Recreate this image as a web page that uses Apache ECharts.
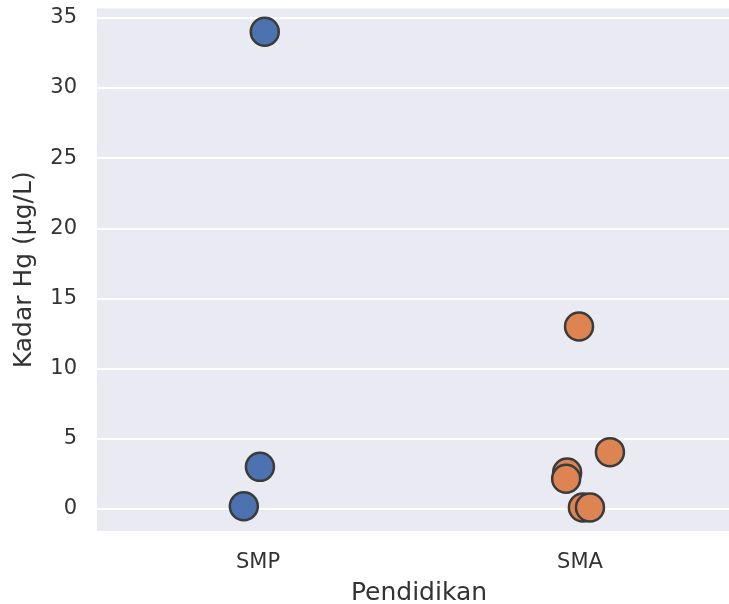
<!DOCTYPE html>
<html>
<head>
<meta charset="utf-8">
<script src="https://cdn.jsdelivr.net/npm/echarts@6/dist/echarts.min.js"></script>
<style>
  html, body { margin: 0; padding: 0; background: #ffffff; }
  #chart { width: 729px; height: 604px; }
</style>
</head>
<body>
<div id="chart"></div>
<script>
// Categories on the x axis and the mercury level per respondent
const categories = ['SMP', 'SMA'];
const smpValues = [34.0, 3.0, 0.2];
const smpJitter = [0.021, 0.006, -0.044];
const smaValues = [13.0, 4.05, 2.6, 2.15, 0.1, 0.1];
const smaJitter = [-0.003, 0.093, -0.040, -0.043, 0.009, 0.031];
const yTicks = [0, 5, 10, 15, 20, 25, 30, 35];

const colors = ['#4c72b0', '#dd8452'];
const font = 'DejaVu Sans';
const textColor = '#333333';

function stripPoints(catIndex, values, jitter) {
  return values.map((v, i) => [catIndex + jitter[i], v]);
}

const chart = echarts.init(document.getElementById('chart'), null, { renderer: 'canvas' });

const pointStyle = (c) => ({
  color: c,
  borderColor: '#3b3b3b',
  borderWidth: 2.5,
  opacity: 1
});

chart.setOption({
  animation: false,
  backgroundColor: '#ffffff',
  grid: {
    left: 97, top: 8.5, width: 644, height: 522.5,
    outerBoundsMode: 'none', containLabel: false,
    backgroundColor: '#eaeaf2', show: true, borderWidth: 0
  },
  xAxis: {
    type: 'value',
    min: -0.5,
    max: 1.5,
    axisLine: { show: false },
    axisTick: { show: false, customValues: [0, 1] },
    splitLine: { show: false },
    axisLabel: {
      customValues: [0, 1],
      formatter: (v) => categories[Math.round(v)],
      color: textColor,
      fontFamily: font,
      fontSize: 21,
      margin: 21
    },
    name: 'Pendidikan',
    nameLocation: 'middle',
    nameGap: 50,
    nameTextStyle: { color: textColor, fontFamily: font, fontSize: 25 }
  },
  yAxis: {
    type: 'value',
    min: -1.57,
    max: 35.66,
    axisLine: { show: false },
    axisTick: { show: false, customValues: yTicks },
    splitLine: { show: true, lineStyle: { color: '#ffffff', width: 2 } },
    axisLabel: {
      customValues: yTicks,
      color: textColor,
      fontFamily: font,
      fontSize: 21,
      margin: 20
    },
    name: 'Kadar Hg (µg/L)',
    nameLocation: 'middle',
    nameGap: 60,
    nameTextStyle: { color: textColor, fontFamily: font, fontSize: 25 }
  },
  series: [
    {
      type: 'scatter',
      data: stripPoints(0, smpValues, smpJitter),
      symbolSize: 28,
      itemStyle: pointStyle(colors[0]),
      z: 3
    },
    {
      type: 'scatter',
      data: stripPoints(1, smaValues, smaJitter),
      symbolSize: 28,
      itemStyle: pointStyle(colors[1]),
      z: 3
    }
  ]
});
</script>
</body>
</html>
